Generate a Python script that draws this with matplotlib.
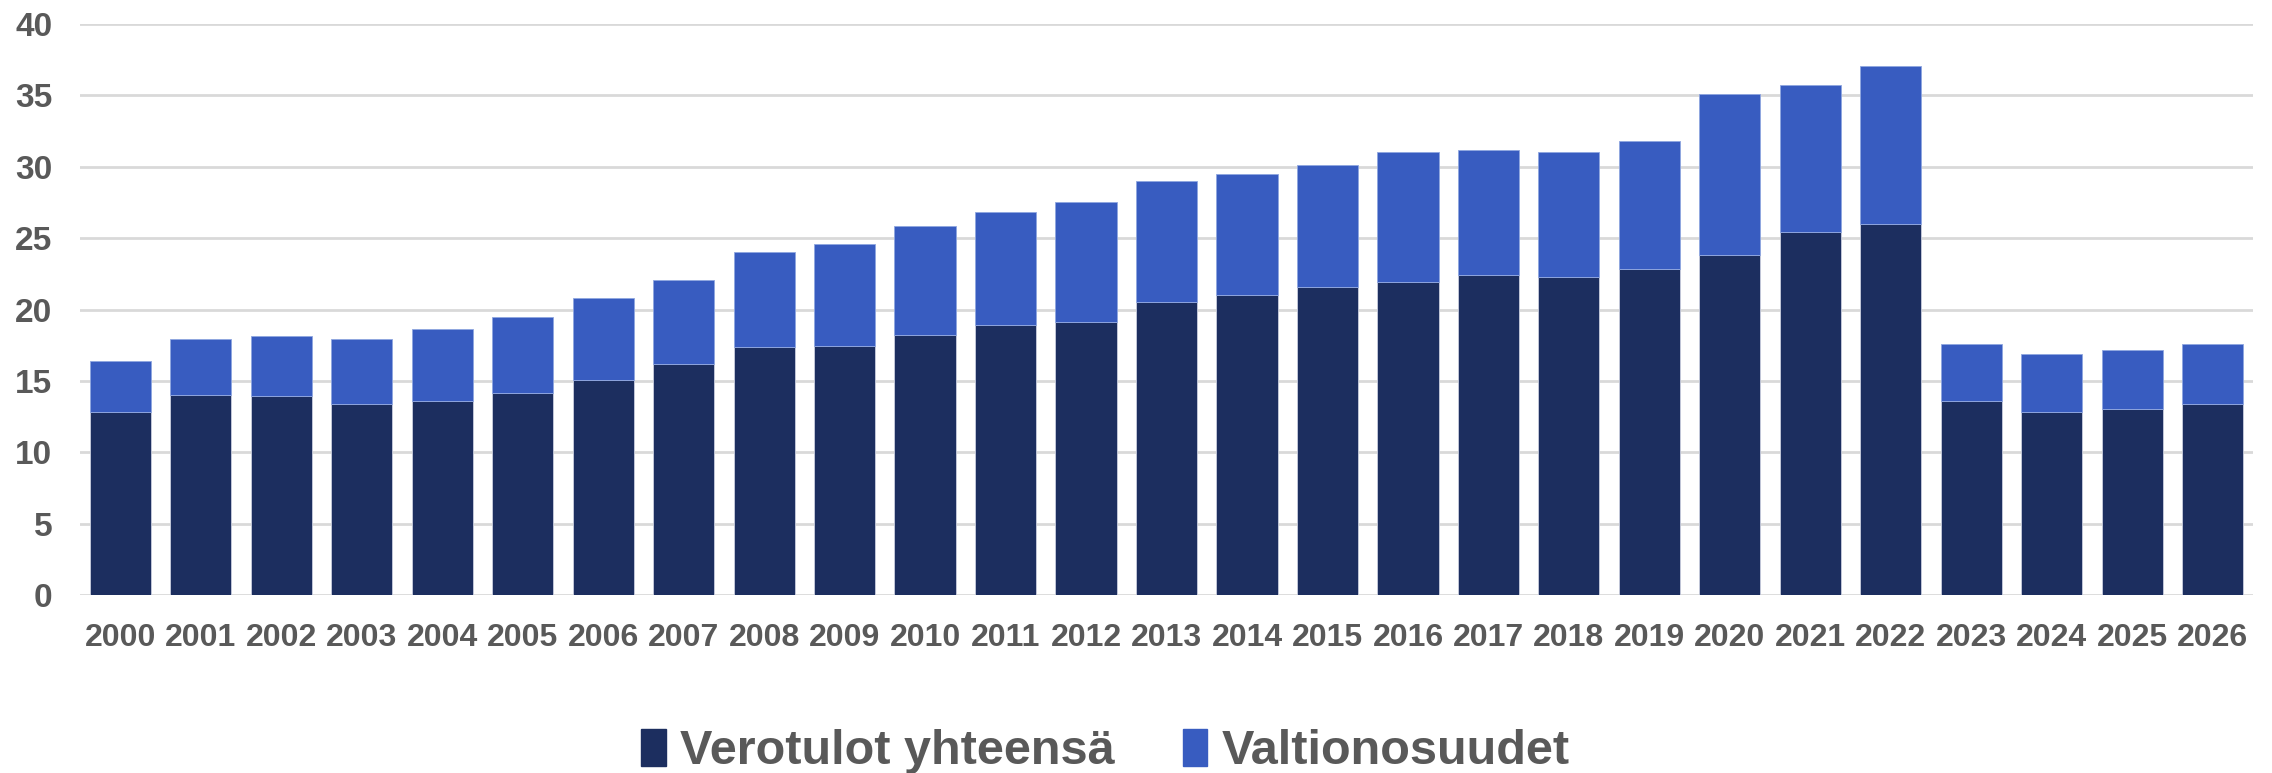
import matplotlib
matplotlib.use('Agg')
import matplotlib.pyplot as plt
import numpy as np
from matplotlib.patches import Patch

# Data (mrd €)
years = [str(y) for y in range(2000, 2027)]
totals = [16.4, 17.95, 18.15, 17.95, 18.6, 19.45, 20.8, 22.1, 24.05, 24.6, 25.85,
          26.85, 27.5, 29.0, 29.5, 30.1, 31.05, 31.2, 31.0, 31.8, 35.1, 35.75,
          37.05, 17.55, 16.85, 17.15, 17.55]
verotulot = [12.8, 14.0, 13.95, 13.4, 13.6, 14.15, 15.05, 16.15, 17.4, 17.45, 18.2,
             18.9, 19.15, 20.5, 21.0, 21.6, 21.95, 22.4, 22.3, 22.85, 23.8, 25.4,
             26.0, 13.6, 12.8, 13.05, 13.35]
valtionosuudet = [t - v for t, v in zip(totals, verotulot)]

dark = '#1c2e5f'
blue = '#385cc0'
grey_text = '#595959'

fig = plt.figure(figsize=(22.72, 7.73), dpi=100)
ax = fig.add_axes([80 / 2272, 1 - 595 / 773, (2253 - 80) / 2272, (595 - 24) / 773])

x = np.arange(len(years))
w = 0.76
ax.bar(x, verotulot, w, color=dark, edgecolor='#c9cede', linewidth=0.6, zorder=3)
ax.bar(x, valtionosuudet, w, bottom=verotulot, color=blue, edgecolor='#8fa6e0',
       linewidth=0.6, zorder=3)

ax.set_xlim(-0.5, len(years) - 0.5)
ax.set_ylim(0, 40)
ax.set_yticks(range(0, 41, 5))
ax.set_xticks(x)
ax.set_xticklabels(years)
ax.grid(axis='y', color='#d9d9d9', linewidth=2, zorder=0)
ax.set_axisbelow(True)
for s in ax.spines.values():
    s.set_visible(False)
ax.tick_params(length=0)
ax.tick_params(axis='x', pad=20)
ax.tick_params(axis='y', pad=20)

font = ['Liberation Sans', 'DejaVu Sans']
for lab in ax.get_xticklabels():
    lab.set_fontfamily(font)
    lab.set_fontweight('bold')
    lab.set_fontsize(23)
    lab.set_color(grey_text)
for lab in ax.get_yticklabels():
    lab.set_fontfamily(font)
    lab.set_fontweight('bold')
    lab.set_fontsize(24)
    lab.set_color(grey_text)

handles = [Patch(facecolor=dark, edgecolor=dark), Patch(facecolor=blue, edgecolor=blue)]
fig.legend(handles, ['Verotulot yhteensä', 'Valtionosuudet'],
           loc='lower center', bbox_to_anchor=(0.4866, -0.058), ncol=2, frameon=False,
           prop={'family': font, 'weight': 'bold', 'size': 35},
           labelcolor=grey_text, handlelength=0.5, handleheight=0.8,
           handletextpad=0.3, columnspacing=1.4)

fig.savefig('out.png', dpi=100)
